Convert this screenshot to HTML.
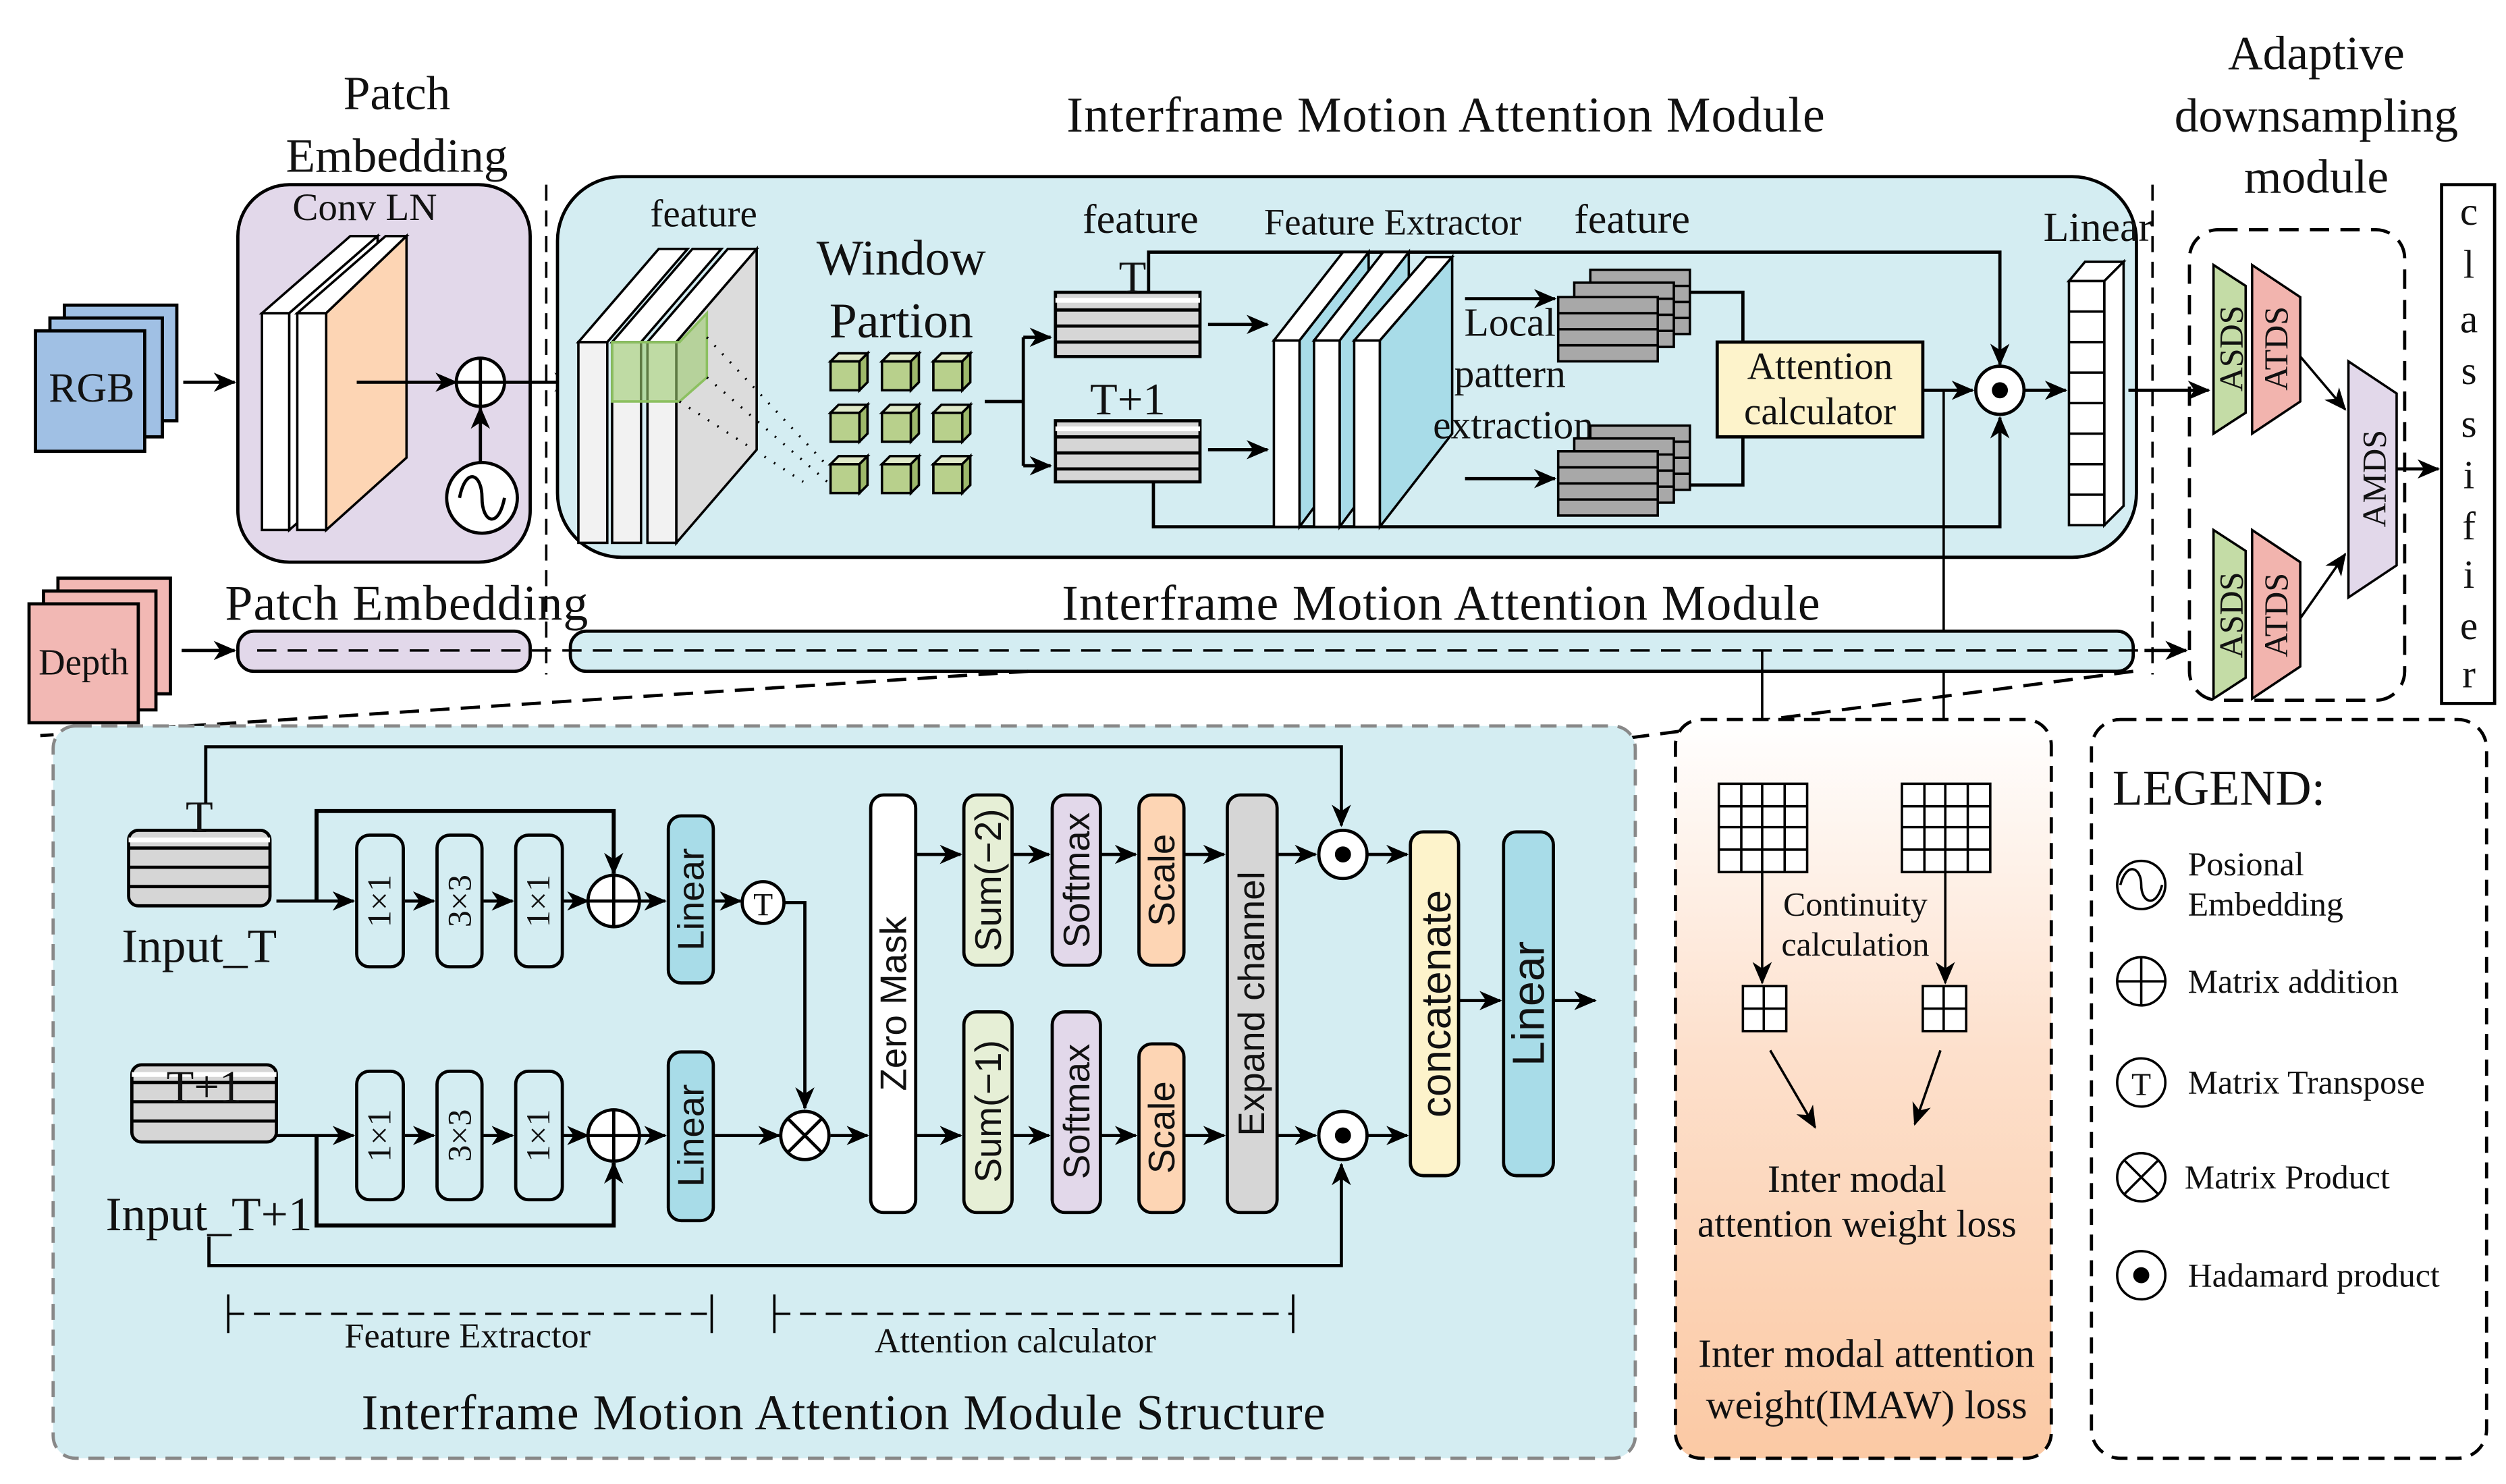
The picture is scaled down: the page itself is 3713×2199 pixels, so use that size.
<!DOCTYPE html>
<html><head><meta charset="utf-8"><style>
html,body{margin:0;padding:0;background:#fff}
svg{display:block}
text{font-family:"Liberation Serif",serif;fill:#111}
.s{font-family:"Liberation Sans",sans-serif}
</style></head><body>
<svg width="3713" height="2199" viewBox="0 0 1560 924" xmlns="http://www.w3.org/2000/svg">
<defs>
<marker id="a" markerUnits="userSpaceOnUse" markerWidth="14" markerHeight="12" refX="13" refY="6" orient="auto"><path d="M0,0 L14,6 L0,12 L4,6 z" fill="#000"/></marker>
<linearGradient id="lg" x1="0" y1="0" x2="0" y2="1"><stop offset="0" stop-color="#fff"/><stop offset="0.45" stop-color="#fde0cc"/><stop offset="1" stop-color="#fbc9a4"/></linearGradient>
</defs>
<g stroke="#000" stroke-width="2">

<g stroke="none">
<text x="247" y="68" font-size="30" text-anchor="middle">Patch</text>
<text x="247" y="107" font-size="30" text-anchor="middle">Embedding</text>
<text x="900" y="82" font-size="31" text-anchor="middle" textLength="472">Interframe Motion Attention Module</text>
<text x="1442" y="43" font-size="30" text-anchor="middle">Adaptive</text>
<text x="1442" y="82" font-size="30" text-anchor="middle">downsampling</text>
<text x="1442" y="120" font-size="30" text-anchor="middle">module</text>
</g>

<rect x="40" y="190" width="70" height="72" fill="#a0c0e4" stroke-width="2"/>
<rect x="31" y="198" width="70" height="74" fill="#a0c0e4"/>
<rect x="22" y="206" width="68" height="75" fill="#a0c0e4"/>
<text x="57" y="250" font-size="26" text-anchor="middle" stroke="none">RGB</text>
<line x1="114" y1="238" x2="146" y2="238" marker-end="url(#a)"/>

<rect x="148" y="115" width="182" height="235" rx="32" fill="#e2d8ea"/>
<text x="227" y="137" font-size="24" text-anchor="middle" stroke="none">Conv LN</text>
<g stroke-width="1.5">
<rect x="163" y="195" width="17" height="135" fill="#fff"/>
<polygon points="163,195 180,195 235,147 218,147" fill="#fff"/>
<polygon points="180,195 235,147 235,282 180,330" fill="#fff"/>
<rect x="185" y="195" width="18" height="135" fill="#fff"/>
<polygon points="185,195 203,195 253,147 240,147" fill="#fff"/>
<polygon points="203,195 253,147 253,285 203,330" fill="#fdd5b4"/>
</g>
<line x1="222" y1="238" x2="284" y2="238" marker-end="url(#a)"/>
<circle cx="299" cy="238" r="15" fill="#fff"/>
<line x1="284" y1="238" x2="314" y2="238"/><line x1="299" y1="223" x2="299" y2="253"/>
<circle cx="300" cy="310" r="22" fill="#fff"/>
<path d="M286,310 C290,290 300,295 300,310 C300,325 310,330 314,310" fill="none"/>
<line x1="299" y1="288" x2="299" y2="254" marker-end="url(#a)"/>
<line x1="314" y1="238" x2="358" y2="238" marker-end="url(#a)"/>

<line x1="340" y1="115" x2="340" y2="420" stroke-dasharray="10,6" stroke-width="1.5"/>
<line x1="1340" y1="115" x2="1340" y2="420" stroke-dasharray="10,6" stroke-width="1.5"/>

<rect x="347" y="110" width="983" height="237" rx="40" fill="#d4edf2"/>
<g stroke="none">
<text x="438" y="141" font-size="24" text-anchor="middle">feature</text>
<text x="561" y="171" font-size="31" text-anchor="middle">Window</text>
<text x="561" y="210" font-size="31" text-anchor="middle">Partion</text>
<text x="710" y="145" font-size="26" text-anchor="middle">feature</text>
<text x="867" y="146" font-size="23" text-anchor="middle">Feature Extractor</text>
<text x="1016" y="145" font-size="26" text-anchor="middle">feature</text>
<text x="1306" y="150" font-size="26" text-anchor="middle">Linear</text>
</g>
<g stroke-width="1.5">
<rect x="360" y="213" width="18" height="125" fill="#f2f2f2"/>
<polygon points="360,213 378,213 428,155 410,155" fill="#fff"/>
<rect x="381" y="213" width="18" height="125" fill="#f2f2f2"/>
<polygon points="381,213 399,213 449,155 431,155" fill="#fff"/>
<rect x="403" y="213" width="18" height="125" fill="#f2f2f2"/>
<polygon points="403,213 421,213 471,155 453,155" fill="#fff"/>
<polygon points="421,213 471,155 471,280 421,338" fill="#dcdcdc"/>
</g>
<polygon points="381,213 423,213 440,195 440,235 423,250 381,250" fill="#9ccb70" fill-opacity="0.6" stroke="#8cc060" stroke-width="1.5"/>
<g stroke-dasharray="1,6" stroke-width="1.5">
<line x1="440" y1="210" x2="515" y2="290"/><line x1="440" y1="235" x2="515" y2="300"/><line x1="423" y1="250" x2="500" y2="300"/>
</g>
<g stroke-width="1.5">
<g id="cube"><rect x="517" y="225" width="18" height="18" fill="#b8d08c"/><polygon points="517,225 535,225 540,220 522,220" fill="#dfe9c8"/><polygon points="535,225 540,220 540,238 535,243" fill="#9db86a"/></g>
<use href="#cube" x="32"/><use href="#cube" x="64"/>
<use href="#cube" y="32"/><use href="#cube" x="32" y="32"/><use href="#cube" x="64" y="32"/>
<use href="#cube" y="64"/><use href="#cube" x="32" y="64"/><use href="#cube" x="64" y="64"/>
</g>
<polyline points="613,250 637,250" fill="none"/>
<polyline points="637,210 637,290" fill="none"/>
<line x1="637" y1="210" x2="654" y2="210" marker-end="url(#a)"/>
<line x1="637" y1="290" x2="654" y2="290" marker-end="url(#a)"/>
<g>
<rect x="657" y="182" width="90" height="40" fill="#d6d6d6"/>
<line x1="657" y1="187" x2="747" y2="187" stroke="#fff" stroke-width="3"/>
<line x1="657" y1="193" x2="747" y2="193"/><line x1="657" y1="203" x2="747" y2="203"/><line x1="657" y1="213" x2="747" y2="213"/>
<rect x="657" y="262" width="90" height="38" fill="#d6d6d6"/>
<line x1="657" y1="267" x2="747" y2="267" stroke="#fff" stroke-width="3"/>
<line x1="657" y1="272" x2="747" y2="272"/><line x1="657" y1="282" x2="747" y2="282"/><line x1="657" y1="292" x2="747" y2="292"/>
</g>
<text x="705" y="182" font-size="28" text-anchor="middle" stroke="none">T</text>
<text x="702" y="258" font-size="28" text-anchor="middle" stroke="none">T+1</text>
<line x1="752" y1="202" x2="789" y2="202" marker-end="url(#a)"/>
<line x1="752" y1="280" x2="789" y2="280" marker-end="url(#a)"/>
<polyline points="715,182 715,157 1245,157 1245,227" fill="none" marker-end="url(#a)"/>
<polyline points="718,300 718,328 1245,328 1245,260" fill="none" marker-end="url(#a)"/>
<g stroke-width="1.5">
<rect x="793" y="212" width="16" height="116" fill="#fff"/>
<polygon points="793,212 809,212 852,157 836,157" fill="#fff"/>
<polygon points="809,212 852,157 852,270 809,328" fill="#a8dce8"/>
<rect x="818" y="212" width="16" height="116" fill="#fff"/>
<polygon points="818,212 834,212 877,157 861,157" fill="#fff"/>
<polygon points="834,212 877,157 877,270 834,328" fill="#a8dce8"/>
<rect x="843" y="212" width="16" height="116" fill="#fff"/>
<polygon points="843,212 859,212 904,160 888,160" fill="#fff"/>
<polygon points="859,212 904,160 904,270 859,328" fill="#a8dce8"/>
</g>
<g stroke="none">
<text x="940" y="209" font-size="25" text-anchor="middle">Local</text>
<text x="940" y="241" font-size="25" text-anchor="middle">pattern</text>
<text x="942" y="273" font-size="25" text-anchor="middle">extraction</text>
</g>
<line x1="912" y1="186" x2="968" y2="186" marker-end="url(#a)"/>
<line x1="912" y1="298" x2="968" y2="298" marker-end="url(#a)"/>
<g stroke-width="1.5">
<g id="ss"><rect x="990" y="168" width="62" height="40" fill="#a8a8a8"/><line x1="990" y1="178" x2="1052" y2="178"/><line x1="990" y1="188" x2="1052" y2="188"/><line x1="990" y1="198" x2="1052" y2="198"/></g>
<use href="#ss" x="-10" y="8"/><use href="#ss" x="-20" y="17"/>
<use href="#ss" y="97"/><use href="#ss" x="-10" y="105"/><use href="#ss" x="-20" y="113"/>
</g>
<polyline points="1052,182 1085,182 1085,213" fill="none"/>
<polyline points="1052,302 1085,302 1085,272" fill="none"/>
<rect x="1069" y="213" width="128" height="59" fill="#fdf3cb"/>
<text x="1133" y="236" font-size="24" text-anchor="middle" stroke="none">Attention</text>
<text x="1133" y="264" font-size="24" text-anchor="middle" stroke="none">calculator</text>
<line x1="1197" y1="243" x2="1228" y2="243" marker-end="url(#a)"/>
<circle cx="1245" cy="243" r="15" fill="#fff"/><circle cx="1245" cy="243" r="4" fill="#000"/>
<line x1="1260" y1="243" x2="1286" y2="243" marker-end="url(#a)"/>
<g stroke-width="1.5">
<polygon points="1288,175 1298,163 1322,163 1310,175" fill="#fff"/>
<polygon points="1310,175 1322,163 1322,315 1310,327" fill="#fff"/>
<rect x="1288" y="175" width="22" height="152" fill="#fff"/>
<line x1="1288" y1="194" x2="1310" y2="194"/><line x1="1288" y1="213" x2="1310" y2="213"/><line x1="1288" y1="232" x2="1310" y2="232"/><line x1="1288" y1="251" x2="1310" y2="251"/><line x1="1288" y1="270" x2="1310" y2="270"/><line x1="1288" y1="289" x2="1310" y2="289"/><line x1="1288" y1="308" x2="1310" y2="308"/>
</g>
<line x1="1325" y1="243" x2="1375" y2="243" marker-end="url(#a)"/>
<line x1="1210" y1="243" x2="1210" y2="486" stroke-width="1.5" marker-end="url(#a)"/>

<rect x="1363" y="143" width="134" height="293" rx="18" fill="none" stroke-dasharray="12,7"/>
<g stroke-width="1.5">
<polygon points="1378,165 1398,178 1398,257 1378,270" fill="#c4dca6"/>
<polygon points="1402,165 1432,185 1432,250 1402,270" fill="#f2b4ae"/>
<polygon points="1378,330 1398,343 1398,422 1378,435" fill="#c4dca6"/>
<polygon points="1402,330 1432,350 1432,415 1402,435" fill="#f2b4ae"/>
<polygon points="1462,225 1492,245 1492,352 1462,372" fill="#e2d8ea"/>
</g>
<g stroke="none" font-size="21">
<text transform="translate(1396,217) rotate(-90)" text-anchor="middle">ASDS</text>
<text transform="translate(1424,217) rotate(-90)" text-anchor="middle">ATDS</text>
<text transform="translate(1396,383) rotate(-90)" text-anchor="middle">ASDS</text>
<text transform="translate(1424,383) rotate(-90)" text-anchor="middle">ATDS</text>
<text transform="translate(1485,298) rotate(-90)" text-anchor="middle">AMDS</text>
</g>
<line x1="1432" y1="222" x2="1460" y2="255" stroke-width="1.5" marker-end="url(#a)"/>
<line x1="1432" y1="385" x2="1460" y2="345" stroke-width="1.5" marker-end="url(#a)"/>
<line x1="1492" y1="292" x2="1518" y2="292" marker-end="url(#a)"/>
<rect x="1520" y="115" width="33" height="323" fill="#fff"/>
<g stroke="none" font-size="25" text-anchor="middle">
<text x="1537" y="140">c</text><text x="1537" y="173">l</text><text x="1537" y="207">a</text><text x="1537" y="239">s</text><text x="1537" y="272">s</text><text x="1537" y="304">i</text><text x="1537" y="336">f</text><text x="1537" y="366">i</text><text x="1537" y="398">e</text><text x="1537" y="428">r</text>
</g>

<rect x="36" y="360" width="70" height="72" fill="#f2b8b4"/>
<rect x="27" y="368" width="70" height="74" fill="#f2b8b4"/>
<rect x="18" y="376" width="68" height="74" fill="#f2b8b4"/>
<text x="52" y="420" font-size="23" text-anchor="middle" stroke="none">Depth</text>
<line x1="113" y1="405" x2="146" y2="405" marker-end="url(#a)"/>
<text x="253" y="386" font-size="31" text-anchor="middle" stroke="none" textLength="226">Patch Embedding</text>
<text x="897" y="386" font-size="31" text-anchor="middle" stroke="none" textLength="472">Interframe Motion Attention Module</text>
<rect x="148" y="393" width="182" height="25" rx="10" fill="#e2d8ea"/>
<rect x="355" y="393" width="973" height="25" rx="10" fill="#d4edf2"/>
<line x1="160" y1="405" x2="1350" y2="405" stroke-dasharray="12,7" stroke-width="1.5"/>
<line x1="1335" y1="405" x2="1361" y2="405" marker-end="url(#a)"/>
<line x1="1097" y1="405" x2="1097" y2="486" stroke-width="1.5" marker-end="url(#a)"/>
<line x1="640" y1="418" x2="25" y2="458" stroke-dasharray="12,7"/>
<line x1="1328" y1="418" x2="1010" y2="460" stroke-dasharray="12,7"/>

<rect x="33" y="452" width="985" height="456" rx="14" fill="#d4edf2" stroke="#888" stroke-dasharray="10,6"/>
<g>
<rect x="80" y="517" width="88" height="47" rx="6" fill="#d6d6d6"/>
<line x1="80" y1="523" x2="168" y2="523" stroke="#fff" stroke-width="3"/>
<line x1="80" y1="528" x2="168" y2="528"/><line x1="80" y1="540" x2="168" y2="540"/><line x1="80" y1="552" x2="168" y2="552"/>
<rect x="82" y="663" width="90" height="48" rx="6" fill="#d6d6d6"/>
<line x1="82" y1="669" x2="172" y2="669" stroke="#fff" stroke-width="3"/>
<line x1="82" y1="674" x2="172" y2="674"/><line x1="82" y1="686" x2="172" y2="686"/><line x1="82" y1="698" x2="172" y2="698"/>
</g>
<g stroke="none">
<text x="124" y="518" font-size="28" text-anchor="middle">T</text>
<text x="124" y="599" font-size="30" text-anchor="middle">Input_T</text>
<text x="127" y="686" font-size="28" text-anchor="middle">T+1</text>
<text x="130" y="766" font-size="30" text-anchor="middle">Input_T+1</text>
</g>
<polyline points="128,500 128,465 835,465 835,514" fill="none" marker-end="url(#a)"/>
<polyline points="130,770 130,788 835,788 835,725" fill="none" marker-end="url(#a)"/>
<polyline points="197,561 197,505 382,505 382,544" fill="none" stroke-width="2.5" marker-end="url(#a)"/>
<polyline points="197,707 197,763 382,763 382,724" fill="none" stroke-width="2.5" marker-end="url(#a)"/>
<line x1="172" y1="561" x2="220" y2="561" marker-end="url(#a)"/>
<line x1="252" y1="561" x2="270" y2="561" marker-end="url(#a)"/>
<line x1="301" y1="561" x2="319" y2="561" marker-end="url(#a)"/>
<line x1="351" y1="561" x2="366" y2="561" marker-end="url(#a)"/>
<line x1="398" y1="561" x2="414" y2="561" marker-end="url(#a)"/>
<line x1="445" y1="561" x2="461" y2="561" marker-end="url(#a)"/>
<line x1="172" y1="707" x2="220" y2="707" marker-end="url(#a)"/>
<line x1="252" y1="707" x2="270" y2="707" marker-end="url(#a)"/>
<line x1="301" y1="707" x2="319" y2="707" marker-end="url(#a)"/>
<line x1="351" y1="707" x2="366" y2="707" marker-end="url(#a)"/>
<line x1="398" y1="707" x2="414" y2="707" marker-end="url(#a)"/>
<line x1="445" y1="707" x2="485" y2="707" marker-end="url(#a)"/>
<polyline points="488,562 501,562 501,690" fill="none" marker-end="url(#a)"/>
<line x1="517" y1="707" x2="540" y2="707" marker-end="url(#a)"/>
<g fill="#d4edf2">
<rect x="222" y="520" width="29" height="82" rx="8"/><rect x="272" y="520" width="28" height="82" rx="8"/><rect x="321" y="520" width="29" height="82" rx="8"/>
<rect x="222" y="667" width="29" height="80" rx="8"/><rect x="272" y="667" width="28" height="80" rx="8"/><rect x="321" y="667" width="29" height="80" rx="8"/>
</g>
<g stroke="none" font-size="21" text-anchor="middle">
<text transform="translate(243,561) rotate(-90)">1×1</text>
<text transform="translate(293,561) rotate(-90)">3×3</text>
<text transform="translate(342,561) rotate(-90)">1×1</text>
<text transform="translate(243,707) rotate(-90)">1×1</text>
<text transform="translate(293,707) rotate(-90)">3×3</text>
<text transform="translate(342,707) rotate(-90)">1×1</text>
</g>
<circle cx="382" cy="561" r="16" fill="#fff"/><line x1="366" y1="561" x2="398" y2="561"/><line x1="382" y1="545" x2="382" y2="577"/>
<circle cx="382" cy="707" r="16" fill="#fff"/><line x1="366" y1="707" x2="398" y2="707"/><line x1="382" y1="691" x2="382" y2="723"/>
<rect x="416" y="508" width="28" height="104" rx="8" fill="#a8dce8"/>
<rect x="416" y="655" width="28" height="105" rx="8" fill="#a8dce8"/>
<circle cx="475" cy="562" r="13" fill="#fff"/><text x="475" y="570" font-size="20" text-anchor="middle" stroke="none">T</text>
<circle cx="501" cy="707" r="15" fill="#fff"/><line x1="490" y1="696" x2="512" y2="718"/><line x1="512" y1="696" x2="490" y2="718"/>
<rect x="542" y="495" width="28" height="260" rx="8" fill="#fff"/>
<rect x="600" y="495" width="30" height="106" rx="8" fill="#e6efd6"/>
<rect x="600" y="630" width="30" height="125" rx="8" fill="#e6efd6"/>
<rect x="655" y="495" width="30" height="106" rx="8" fill="#e2d8ea"/>
<rect x="655" y="630" width="30" height="125" rx="8" fill="#e2d8ea"/>
<rect x="709" y="495" width="28" height="106" rx="8" fill="#fdd5b4"/>
<rect x="709" y="650" width="28" height="105" rx="8" fill="#fdd5b4"/>
<rect x="764" y="495" width="31" height="260" rx="8" fill="#d6d6d6"/>
<rect x="878" y="518" width="30" height="214" rx="8" fill="#fdf3cb"/>
<rect x="936" y="518" width="31" height="214" rx="8" fill="#a8dce8"/>
<g stroke-width="2">
<line x1="570" y1="532" x2="598" y2="532" marker-end="url(#a)"/>
<line x1="630" y1="532" x2="653" y2="532" marker-end="url(#a)"/>
<line x1="685" y1="532" x2="707" y2="532" marker-end="url(#a)"/>
<line x1="737" y1="532" x2="762" y2="532" marker-end="url(#a)"/>
<line x1="795" y1="532" x2="819" y2="532" marker-end="url(#a)"/>
<line x1="851" y1="532" x2="876" y2="532" marker-end="url(#a)"/>
<line x1="570" y1="707" x2="598" y2="707" marker-end="url(#a)"/>
<line x1="630" y1="707" x2="653" y2="707" marker-end="url(#a)"/>
<line x1="685" y1="707" x2="707" y2="707" marker-end="url(#a)"/>
<line x1="737" y1="707" x2="762" y2="707" marker-end="url(#a)"/>
<line x1="795" y1="707" x2="819" y2="707" marker-end="url(#a)"/>
<line x1="851" y1="707" x2="876" y2="707" marker-end="url(#a)"/>
<line x1="908" y1="623" x2="934" y2="623" marker-end="url(#a)"/>
<line x1="967" y1="623" x2="993" y2="623" marker-end="url(#a)"/>
</g>
<circle cx="836" cy="532" r="15" fill="#fff"/><circle cx="836" cy="532" r="4" fill="#000"/>
<circle cx="836" cy="707" r="15" fill="#fff"/><circle cx="836" cy="707" r="4" fill="#000"/>
<g stroke="none" text-anchor="middle">
<text class="s" transform="translate(438,560) rotate(-90)" font-size="23">Linear</text>
<text class="s" transform="translate(438,707) rotate(-90)" font-size="23">Linear</text>
<text class="s" transform="translate(564,625) rotate(-90)" font-size="23">Zero Mask</text>
<text class="s" transform="translate(623,548) rotate(-90)" font-size="23">Sum(−2)</text>
<text class="s" transform="translate(623,692) rotate(-90)" font-size="23">Sum(−1)</text>
<text class="s" transform="translate(678,548) rotate(-90)" font-size="23">Softmax</text>
<text class="s" transform="translate(678,692) rotate(-90)" font-size="23">Softmax</text>
<text class="s" transform="translate(731,548) rotate(-90)" font-size="23">Scale</text>
<text class="s" transform="translate(731,702) rotate(-90)" font-size="23">Scale</text>
<text class="s" transform="translate(787,625) rotate(-90)" font-size="23">Expand channel</text>
<text class="s" transform="translate(903,625) rotate(-90)" font-size="26">concatenate</text>
<text class="s" transform="translate(961,625) rotate(-90)" font-size="28">Linear</text>
</g>
<g stroke-width="1.5">
<line x1="142" y1="818" x2="443" y2="818" stroke-dasharray="10,6"/>
<line x1="142" y1="806" x2="142" y2="830"/><line x1="443" y1="806" x2="443" y2="830"/>
<line x1="482" y1="818" x2="805" y2="818" stroke-dasharray="10,6"/>
<line x1="482" y1="806" x2="482" y2="830"/><line x1="805" y1="806" x2="805" y2="830"/>
</g>
<g stroke="none">
<text x="291" y="839" font-size="22" text-anchor="middle">Feature Extractor</text>
<text x="632" y="842" font-size="22" text-anchor="middle">Attention calculator</text>
<text x="525" y="890" font-size="31" text-anchor="middle" textLength="600">Interframe Motion Attention Module Structure</text>
</g>

<rect x="1043" y="448" width="234" height="460" rx="16" fill="url(#lg)" stroke-dasharray="10,6"/>
<g stroke-width="1.5" fill="#fff">
<rect x="1070" y="488" width="55" height="55"/>
<line x1="1084" y1="488" x2="1084" y2="543"/><line x1="1097" y1="488" x2="1097" y2="543"/><line x1="1111" y1="488" x2="1111" y2="543"/>
<line x1="1070" y1="502" x2="1125" y2="502"/><line x1="1070" y1="515" x2="1125" y2="515"/><line x1="1070" y1="529" x2="1125" y2="529"/>
<rect x="1184" y="488" width="55" height="55"/>
<line x1="1198" y1="488" x2="1198" y2="543"/><line x1="1211" y1="488" x2="1211" y2="543"/><line x1="1225" y1="488" x2="1225" y2="543"/>
<line x1="1184" y1="502" x2="1239" y2="502"/><line x1="1184" y1="515" x2="1239" y2="515"/><line x1="1184" y1="529" x2="1239" y2="529"/>
<line x1="1097" y1="543" x2="1097" y2="612" marker-end="url(#a)"/>
<line x1="1211" y1="543" x2="1211" y2="612" marker-end="url(#a)"/>
<rect x="1085" y="614" width="27" height="28"/><line x1="1098" y1="614" x2="1098" y2="642"/><line x1="1085" y1="628" x2="1112" y2="628"/>
<rect x="1197" y="614" width="27" height="28"/><line x1="1210" y1="614" x2="1210" y2="642"/><line x1="1197" y1="628" x2="1224" y2="628"/>
<line x1="1102" y1="654" x2="1130" y2="702" marker-end="url(#a)"/>
<line x1="1208" y1="654" x2="1192" y2="700" marker-end="url(#a)"/>
</g>
<g stroke="none" text-anchor="middle">
<text x="1155" y="570" font-size="21">Continuity</text>
<text x="1155" y="595" font-size="21">calculation</text>
<text x="1156" y="742" font-size="24">Inter modal</text>
<text x="1156" y="770" font-size="24">attention weight loss</text>
<text x="1162" y="851" font-size="25">Inter modal attention</text>
<text x="1162" y="883" font-size="25">weight(IMAW) loss</text>
</g>

<rect x="1302" y="448" width="246" height="460" rx="18" fill="#fff" stroke-dasharray="10,6"/>
<text x="1315" y="501" font-size="31" stroke="none">LEGEND:</text>
<circle cx="1333" cy="551" r="15" fill="#fff" stroke-width="1.5"/>
<path d="M1320,551 C1324,536 1333,540 1333,551 C1333,562 1342,566 1346,551" fill="none" stroke-width="1.5"/>
<circle cx="1333" cy="611" r="15" fill="#fff" stroke-width="1.5"/><line x1="1318" y1="611" x2="1348" y2="611" stroke-width="1.5"/><line x1="1333" y1="596" x2="1333" y2="626" stroke-width="1.5"/>
<circle cx="1333" cy="674" r="15" fill="#fff" stroke-width="1.5"/><text x="1333" y="682" font-size="20" text-anchor="middle" stroke="none">T</text>
<circle cx="1333" cy="733" r="15" fill="#fff" stroke-width="1.5"/><line x1="1322" y1="722" x2="1344" y2="744" stroke-width="1.5"/><line x1="1344" y1="722" x2="1322" y2="744" stroke-width="1.5"/>
<circle cx="1333" cy="794" r="15" fill="#fff" stroke-width="1.5"/><circle cx="1333" cy="794" r="4" fill="#000"/>
<g stroke="none" font-size="21">
<text x="1362" y="545">Posional</text>
<text x="1362" y="570">Embedding</text>
<text x="1362" y="618">Matrix addition</text>
<text x="1362" y="681">Matrix Transpose</text>
<text x="1360" y="740">Matrix Product</text>
<text x="1362" y="801">Hadamard product</text>
</g>
</g>
</svg>
</body></html>
